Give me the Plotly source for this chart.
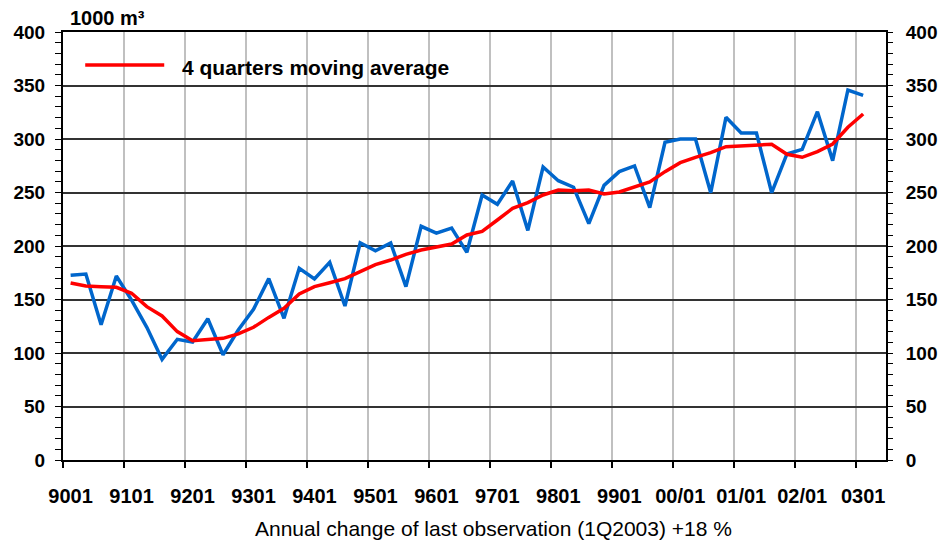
import numpy as np
import plotly.graph_objects as go

# ---- data ----
year_labels = ["9001", "9101", "9201", "9301", "9401", "9501", "9601",
               "9701", "9801", "9901", "00/01", "01/01", "02/01", "0301"]

quarterly = [172.6, 173.8, 126.5, 172.0, 149.5, 124.0, 94.0, 112.8,
             110.3, 132.0, 98.4, 121.5, 140.8, 169.5, 132.4, 179.1,
             169.2, 184.7, 143.9, 203.0, 195.6, 202.8, 162.0, 218.4,
             212.1, 216.8, 194.1, 247.7, 239.0, 260.7, 214.6, 273.8,
             261.0, 254.9, 220.9, 256.7, 269.5, 274.8, 235.8, 296.9,
             300.0, 300.0, 249.8, 320.3, 305.6, 305.6, 249.8, 286.0,
             290.3, 325.5, 279.8, 345.8, 340.8]

moving_avg = [165.4, 162.6, 162.0, 161.4, 155.8, 143.3, 134.6, 120.0,
              111.5, 112.8, 113.7, 117.8, 124.0, 133.3, 141.7, 155.1,
              162.0, 165.7, 169.5, 176.0, 182.6, 186.9, 192.2, 196.3,
              199.4, 201.9, 210.3, 213.7, 224.3, 235.2, 240.5, 247.7,
              252.3, 251.7, 252.3, 248.6, 250.5, 255.4, 259.8, 269.5,
              277.9, 282.9, 287.2, 292.8, 293.8, 294.7, 295.0, 285.7,
              282.9, 288.2, 295.3, 311.0, 323.4]

legend_text = "4 quarters moving average"
unit_text = "1000 m³"
x_title = "Annual change of last observation (1Q2003) +18 %"

n = len(quarterly)
xpos = np.arange(n) + 0.5          # category centres
n_slots = n + 1
year_bounds = list(range(0, 4 * len(year_labels), 4))
year_centres = [b + 0.5 for b in year_bounds]

FONT = "Liberation Sans, Arial, sans-serif"

fig = go.Figure()
fig.add_trace(go.Scatter(x=xpos, y=quarterly, mode="lines",
                         line=dict(color="#0066CC", width=3.5),
                         showlegend=False))
fig.add_trace(go.Scatter(x=xpos, y=moving_avg, mode="lines",
                         line=dict(color="#FF0000", width=3.5),
                         name=legend_text, showlegend=False))
# helper traces so the secondary axes are drawn
fig.add_trace(go.Scatter(x=[None], y=[None], xaxis="x2", yaxis="y",
                         showlegend=False, hoverinfo="skip"))
fig.add_trace(go.Scatter(x=[None], y=[None], xaxis="x", yaxis="y2",
                         showlegend=False, hoverinfo="skip"))

tickfont_y = dict(family=FONT, size=19, color="black", weight="bold")
tickfont_x = dict(family=FONT, size=20, color="black", weight="bold")

yaxis_common = dict(
    range=[0, 400], tickmode="linear", tick0=0, dtick=50,
    ticks="outside", ticklen=6, tickcolor="black", tickwidth=1,
    minor=dict(dtick=10, ticks="outside", ticklen=6, tickcolor="black",
               tickwidth=1, showgrid=False),
    tickfont=tickfont_y, zeroline=False, fixedrange=True,
    automargin=False,
)

fig.update_layout(
    width=944, height=542,
    margin=dict(l=63, r=58, t=32, b=82),
    paper_bgcolor="white", plot_bgcolor="white",
    showlegend=False,
    xaxis=dict(
        range=[0, n_slots], tickmode="array", tickvals=year_bounds,
        showticklabels=False, ticks="outside", ticklen=6,
        tickcolor="black", tickwidth=1.5,
        showgrid=True, gridcolor="#C0C0C0", gridwidth=1.5,
        showline=True, mirror=True, linecolor="black", linewidth=2,
        zeroline=False, automargin=False,
    ),
    xaxis2=dict(
        overlaying="x", anchor="y", side="bottom", matches="x",
        range=[0, n_slots], tickmode="array", tickvals=year_centres,
        ticktext=year_labels, ticks="", showgrid=False, showline=False,
        tickfont=tickfont_x, ticklabelstandoff=22, zeroline=False,
        automargin=False,
    ),
    yaxis=dict(
        **yaxis_common, side="left",
        showgrid=True, gridcolor="#333333", gridwidth=1.5,
        showline=True, mirror=True, linecolor="black", linewidth=2,
        ticklabelstandoff=6,
    ),
    yaxis2=dict(
        **yaxis_common, side="right", overlaying="y", matches="y",
        anchor="x", showgrid=False, showline=False,
        ticklabelstandoff=9,
    ),
    shapes=[dict(type="line", xref="paper", yref="paper",
                 x0=0.027, x1=0.123, y0=0.923, y1=0.923,
                 line=dict(color="#FF0000", width=3.5))],
    annotations=[
        dict(text=legend_text, xref="paper", yref="paper",
             x=0.142, y=0.918, xanchor="left", yanchor="middle",
             showarrow=False,
             font=dict(family=FONT, size=21, color="black", weight="bold")),
        dict(text=unit_text, xref="paper", yref="paper",
             x=0.006, y=1.033, xanchor="left", yanchor="middle",
             showarrow=False,
             font=dict(family=FONT, size=20, color="black", weight="bold")),
        dict(text=x_title, xref="paper", yref="paper",
             x=0.5227, y=-0.159, xanchor="center", yanchor="middle",
             showarrow=False,
             font=dict(family=FONT, size=21, color="black")),
    ],
)

fig.write_html(
    "out.html",
    config={"displayModeBar": False},
    post_script="document.body.style.margin='0';"
                "document.body.style.overflow='hidden';",
)
